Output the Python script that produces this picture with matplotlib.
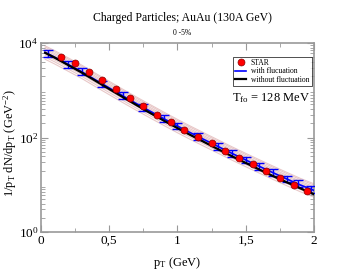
import numpy as np
import matplotlib
matplotlib.use("Agg")
from matplotlib import pyplot as plt
from matplotlib.ticker import FixedLocator, LogLocator, NullFormatter

plt.rcParams['font.family'] = ['Liberation Serif', 'DejaVu Serif']
plt.rcParams['mathtext.fontset'] = 'custom'
plt.rcParams['mathtext.rm'] = 'Liberation Serif'
plt.rcParams['mathtext.it'] = 'Liberation Serif'

# STAR data
star_pt = [0.15, 0.25, 0.35, 0.45, 0.55, 0.65, 0.75, 0.85, 0.95, 1.05,
           1.15, 1.25, 1.35, 1.45, 1.55, 1.65, 1.75, 1.85, 1.95]
star_y = [5130, 3800, 2450, 1660, 1050, 676, 468, 302, 209, 145,
          105, 76, 52.5, 37, 27, 19.5, 13.8, 9.8, 7.4]

# model curves
model_pt = [0.03, 0.1, 0.2, 0.3, 0.4, 0.5, 0.6, 0.7, 0.8, 0.9, 1.0,
            1.1, 1.2, 1.3, 1.4, 1.5, 1.6, 1.7, 1.8, 1.9, 2.0]
with_fluct = [6300, 5000, 3500, 2450, 1650, 1120, 760, 520, 360, 250, 175,
              124, 89, 64, 46, 33.5, 24.5, 18, 13.3, 9.9, 7.6]
without_fluct = [6200, 4900, 3400, 2350, 1580, 1060, 715, 485, 330, 228, 158,
                 111, 79, 56, 40, 29, 21, 15.3, 11.3, 8.4, 6.3]

# blue error bars on the fluctuation curve
err_pt = [0.05, 0.2, 0.3, 0.45, 0.6, 0.75, 0.9, 1.0, 1.15, 1.3, 1.4,
          1.5, 1.6, 1.7, 1.8, 1.88, 1.98]
err_rel = 0.18

fig = plt.figure(figsize=(3.54, 2.73), dpi=100)
ax = fig.add_axes([0.1158, 0.150, 0.7712, 0.6925])

# faint band of fluctuation events
wf = np.array(with_fluct)
for f in [0.72, 0.8, 0.88, 0.95, 1.05, 1.12, 1.2, 1.3, 1.38]:
    ax.plot(model_pt, wf * f, color='#e8c8c8', lw=0.8, zorder=1)

ax.plot(model_pt, with_fluct, color='blue', lw=1.2, zorder=3,
        label='with flucuation')
ax.plot(model_pt, without_fluct, color='black', lw=1.6, zorder=4,
        label='without fluctuation')

err_y = np.exp(np.interp(err_pt, model_pt, np.log(with_fluct)))
ax.errorbar(err_pt, err_y, yerr=[err_y * (1 - 1 / (1 + err_rel)), err_y * err_rel],
            fmt='none', ecolor='blue', elinewidth=1.0, capsize=3.5, capthick=1.0, zorder=3)

ax.plot(star_pt, star_y, 'o', color='red', ms=5, mec='#880000', mew=0.5,
        zorder=5, label='STAR')

ax.set_yscale('log')
ax.set_xlim(0, 2)
ax.set_ylim(1, 1e4)
ax.xaxis.set_major_locator(FixedLocator([0, 0.5, 1, 1.5, 2]))
ax.xaxis.set_minor_locator(FixedLocator([0.25, 0.75, 1.25, 1.75]))
ax.set_xticklabels(['0', '0,5', '1', '1,5', '2'])
ax.yaxis.set_major_locator(FixedLocator([1, 100, 10000]))
ax.set_yticklabels([r'$10^0$', r'$10^2$', r'$10^4$'])
ax.yaxis.set_minor_locator(LogLocator(base=10, subs=np.arange(2, 10), numticks=20))
ax.yaxis.set_minor_formatter(NullFormatter())

frame = '#999999'
for s in ax.spines.values():
    s.set_color(frame)
    s.set_linewidth(1.2)
ax.tick_params(which='both', direction='in', top=True, right=True, colors=frame,
               labelcolor='black', labelsize=9.5)
ax.tick_params(which='major', length=5, pad=2)
ax.tick_params(which='minor', length=3)

ax.set_xlabel(r'p$_\mathregular{T}$ (GeV)', fontsize=9)
ax.xaxis.set_label_coords(0.5, -0.12)
ax.set_ylabel(r'1/p$_\mathregular{T}$ dN/dp$_\mathregular{T}$ (GeV$^{-2}$)', fontsize=9)
ax.yaxis.set_label_coords(-0.08, 0.47)

fig.text(0.515, 0.935, 'Charged Particles; AuAu (130A GeV)', ha='center', va='center', fontsize=8.5)
fig.text(0.515, 0.878, '0 -5%', ha='center', va='center', fontsize=5.5)

ax.text(0.70, 0.69, r'T$_\mathregular{fo}$ = 128 MeV', transform=ax.transAxes, fontsize=9)

h, l = ax.get_legend_handles_labels()
order = [2, 0, 1]
leg = ax.legend([h[i] for i in order], [l[i] for i in order], loc='upper right',
                bbox_to_anchor=(1.0, 0.94), fontsize=5.5, frameon=True, fancybox=False,
                edgecolor='black', borderpad=0.3, labelspacing=0.05, handlelength=1.5,
                handletextpad=0.6, borderaxespad=0.3)
leg.get_frame().set_linewidth(0.6)

fig.savefig('out.png', dpi=100)
